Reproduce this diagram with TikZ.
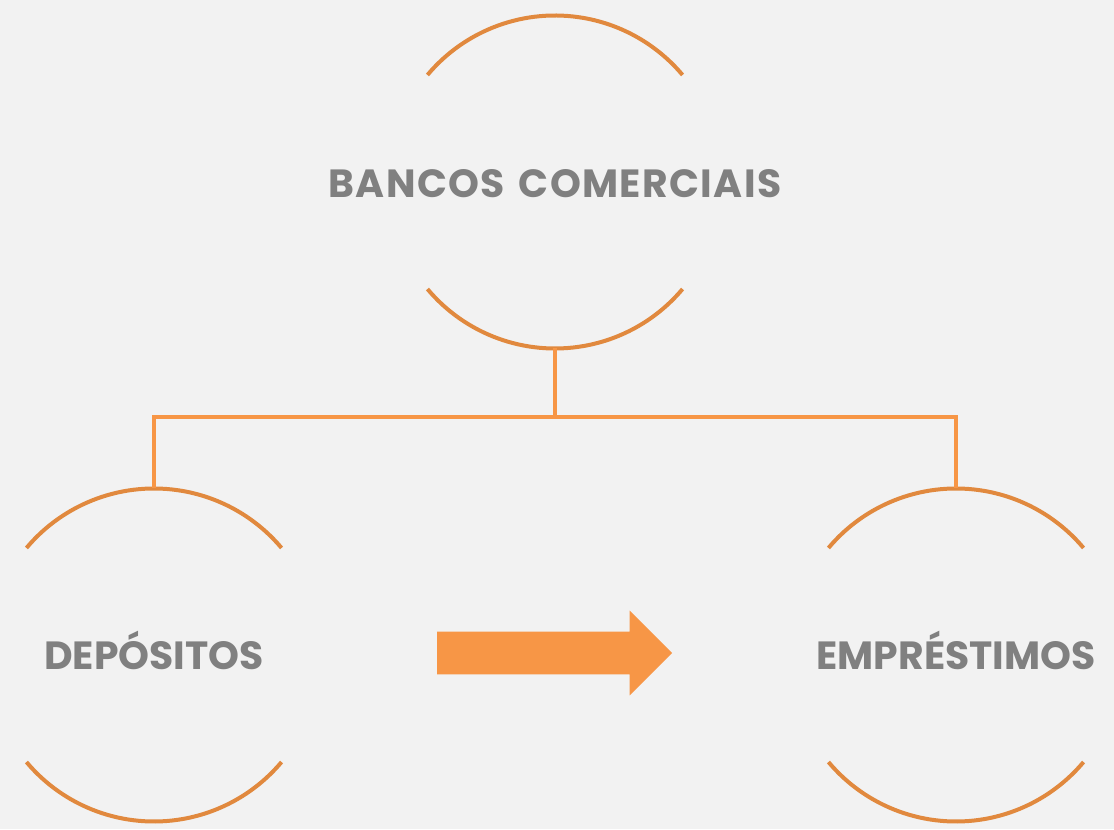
\documentclass[tikz,border=0pt]{standalone}
\usepackage{fontspec}
\setmainfont{Poppins}
\usetikzlibrary{shapes.arrows}

\definecolor{bgray}{RGB}{242,242,242}
\definecolor{arcorange}{RGB}{225,137,62}
\definecolor{lineorange}{RGB}{247,150,70}
\definecolor{txtgray}{RGB}{128,128,128}

\begin{document}
\begin{tikzpicture}[x=0.75pt, y=0.75pt,
    ring/.style={circle, minimum size=249.75pt, inner sep=0pt, outer sep=0pt},
    ringtext/.style={text=txtgray, inner sep=0pt, font=\bfseries\fontsize{29.5}{36}\selectfont},
    arcline/.style={draw=arcorange, line width=3pt},
    link/.style={draw=lineorange, line width=2.7pt}]
        % fundo
        \fill[bgray] (0,0) rectangle (1114,829);
        \useasboundingbox (0,0) rectangle (1114,829);

        % os tres circulos
        \node[ring] (banks) at (555,647) {};
        \node[ring] (dep) at (154,174) {};
        \node[ring] (emp) at (956,174) {};

        % textos
        \node[ringtext, anchor=base] (bankstxt) at (555,631)
            {\addfontfeature{LetterSpace=3.5}BANCOS\hspace{3pt} COMERCIAIS};
        \node[ringtext, anchor=base] (deptxt) at (154,160) {DEPÓSITOS};
        \node[ringtext, anchor=base] (emptxt) at (956,160) {EMPRÉSTIMOS};

        % arcos de cima e de baixo
        \foreach \n in {banks, dep, emp} {
            \draw[arcline] (\n.center) ++(140:166.5) arc[start angle=140, end angle=40, radius=166.5];
            \draw[arcline] (\n.center) ++(220:166.5) arc[start angle=220, end angle=320, radius=166.5];
        }

        % ligacoes
        \coordinate (split) at (555,412);
        \draw[link] (banks.south) -- (split);
        \draw[link] (dep.north) |- (split) -| (emp.north);

        % seta grossa
        \node[single arrow, fill=lineorange, inner sep=15.75pt, outer sep=0pt,
            minimum height=176.25pt, minimum width=63pt,
            single arrow head extend=15.75pt, anchor=tail] (flow) at (437,176) {};
\end{tikzpicture}
\end{document}
